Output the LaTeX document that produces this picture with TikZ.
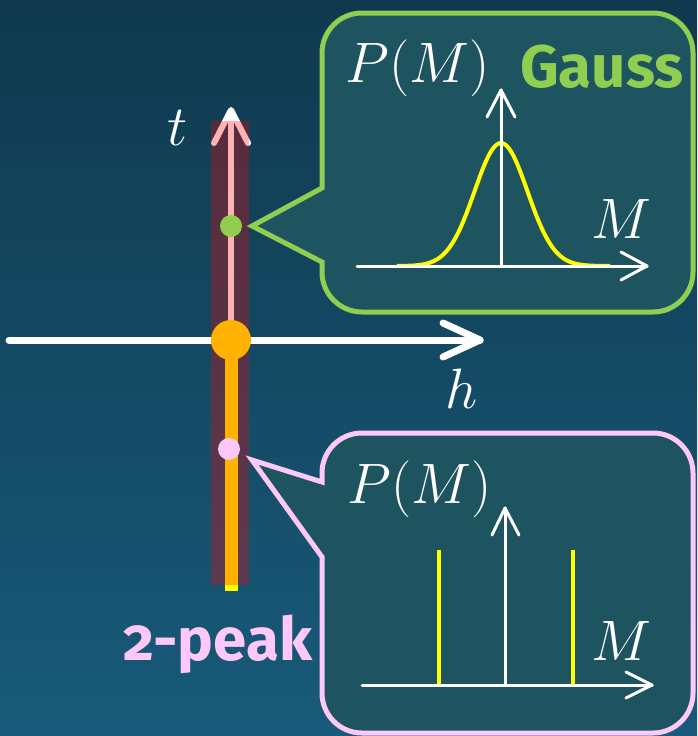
\documentclass[tikz,border=0pt]{standalone}
\usepackage{fontspec}
\newfontfamily\labfont[Numbers=OldStyle]{Fira Sans}
\definecolor{bgtop}{RGB}{16,57,78}
\definecolor{bgbot}{RGB}{24,90,122}
\definecolor{bubble}{RGB}{30,83,96}
\definecolor{gaussgreen}{RGB}{143,206,80}
\definecolor{peakpink}{RGB}{255,200,250}
\definecolor{dotorange}{RGB}{255,178,0}
\definecolor{curveyellow}{RGB}{255,255,0}
\tikzset{
  axisline/.style={white, line width=3pt, line cap=round, line join=round},
  bigaxis/.style={white, line width=7pt, line cap=round, line join=round},
  bubblebox/.style={fill=bubble, line width=5pt, line join=miter},
  curve/.style={curveyellow, line width=4pt},
  mathlab/.style={white, inner sep=0pt, anchor=base west, font=\fontsize{24.88}{30}\selectfont, scale=2.29},
  wordlab/.style={inner sep=0pt, anchor=base west, font=\fontsize{60}{62}\selectfont\labfont\bfseries},
}
\begin{document}
\begin{tikzpicture}[x=1pt,y=-1pt]
\useasboundingbox (0,0) rectangle (697,736);
\shade[top color=bgtop, bottom color=bgbot] (0,0) rectangle (697,736);

% h axis
\coordinate (hs) at (9,340);
\coordinate (he) at (480,340);
\draw[bigaxis] (hs) -- (he);
\draw[bigaxis] (443,323) -- (he) -- (443,357);
\node[mathlab] (hlab) at (445,408) {$h$};

% t axis (white, under the translucent band)
\coordinate (origin) at (231,340);
\coordinate (tend) at (231,110);
\draw[white, line width=6pt] (origin) -- (tend);
\draw[white, line width=6pt, line cap=round, line join=round] (214,143) -- (tend) -- (248,143);
\node[mathlab] (tlab) at (167,145) {$t$};

% yellow line below
\coordinate (ybot) at (231,591);
\draw[curveyellow, line width=13pt] (origin) -- (ybot);

% translucent band
\fill[red, opacity=0.3] (211,121) rectangle (249,585);

% dots
\fill[dotorange] (origin) circle (20);
\fill[gaussgreen] (231,226) circle (11);
\fill[peakpink] (229,449) circle (11);

% Gauss bubble
\draw[gaussgreen, bubblebox] (322,188) -- (322,53) arc[start angle=180,end angle=270,radius=40]
  -- (653,13) arc[start angle=270,end angle=360,radius=40]
  -- (693,272) arc[start angle=0,end angle=90,radius=40]
  -- (362,312) arc[start angle=90,end angle=180,radius=40]
  -- (322,262) -- (252,226) -- cycle;

% Gauss plot
\coordinate (gx0) at (357,266);
\coordinate (gx1) at (647,266);
\coordinate (gy0) at (501,266);
\coordinate (gy1) at (501,90);
\draw[curve] plot[domain=397:610, samples=90, smooth] (\x, {266-123*exp(-((\x-501)*(\x-501))/1404.5)});
\draw[axisline] (gx0) -- (gx1);
\draw[axisline] (621,252) -- (gx1) -- (621,280);
\draw[axisline] (gy0) -- (gy1);
\draw[axisline] (487,117) -- (gy1) -- (515,117);
\node[mathlab] (gp) at (345,82) {$P(M)$};
\node[mathlab] (gm) at (591,238) {$M$};
\node[wordlab, text=gaussgreen] (gauss) at (520,87) {Gauss};

% two-peak bubble
\draw[peakpink, bubblebox] (322,482) -- (322,473) arc[start angle=180,end angle=270,radius=40]
  -- (653,433) arc[start angle=270,end angle=360,radius=40]
  -- (693,693) arc[start angle=0,end angle=90,radius=40]
  -- (362,733) arc[start angle=90,end angle=180,radius=40]
  -- (322,557) -- (252,460) -- cycle;

% two-peak plot
\coordinate (px0) at (362,685);
\coordinate (px1) at (652,685);
\coordinate (py0) at (505,685);
\coordinate (py1) at (505,508);
\draw[curve] (439,685) -- (439,550);
\draw[curve] (573,685) -- (573,550);
\draw[axisline] (px0) -- (px1);
\draw[axisline] (626,672) -- (px1) -- (626,698);
\draw[axisline] (py0) -- (py1);
\draw[axisline] (492,535) -- (py1) -- (519,535);
\node[mathlab] (pp) at (347,503) {$P(M)$};
\node[mathlab] (pm) at (591,660) {$M$};
\node[wordlab, text=peakpink] (twopeak) at (123,660) {2-peak};
\end{tikzpicture}
\end{document}
